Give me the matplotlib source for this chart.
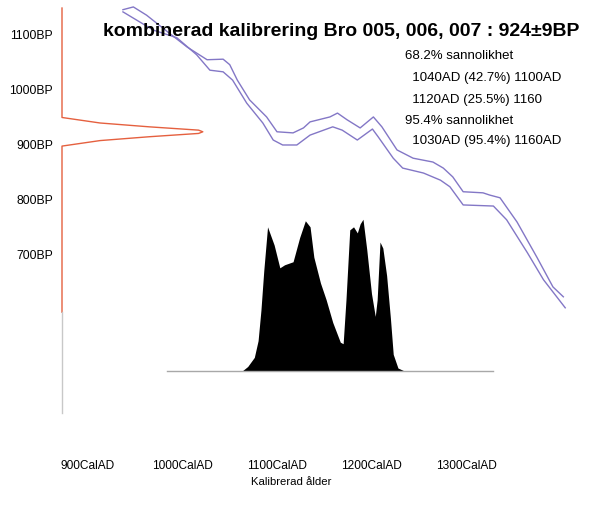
import matplotlib
matplotlib.use("Agg")
import matplotlib.pyplot as plt

# Calibration curve, upper and lower edge of the band (cal AD, BP)
CURVE_HI_AD = [937, 948, 962, 984, 1005, 1026, 1043, 1050, 1058, 1071, 1089, 1100,
               1117, 1128, 1135, 1156, 1164, 1174, 1188, 1202, 1211, 1227, 1244,
               1265, 1276, 1286, 1297, 1318, 1325, 1336, 1354, 1375, 1392, 1403]
CURVE_HI_BP = [1146, 1151, 1136, 1106, 1078, 1055, 1056, 1046, 1018, 982, 951, 924,
               922, 931, 942, 951, 958, 946, 931, 951, 933, 891, 876,
               869, 858, 842, 815, 813, 809, 804, 760, 696, 642, 624]
CURVE_LO_AD = [937, 969, 994, 1015, 1029, 1043, 1053, 1068, 1085, 1096, 1106, 1121,
               1135, 1159, 1169, 1185, 1201, 1207, 1223, 1233, 1255, 1273, 1283,
               1297, 1329, 1343, 1365, 1382, 1405]
CURVE_LO_BP = [1142, 1109, 1095, 1064, 1036, 1033, 1018, 976, 940, 909, 900, 900,
               918, 933, 927, 909, 929, 915, 876, 858, 849, 836, 824,
               791, 789, 764, 704, 655, 604]

# Radiocarbon date 924 +/- 9 BP (relative probability)
DATE_BP = [950, 940, 933, 927, 924, 921, 915, 908, 898]
DATE_P = [0.0, 0.27, 0.62, 0.97, 1.0, 0.97, 0.62, 0.27, 0.0]

# Calibrated distribution (cal AD, relative probability)
CAL_AD = [1063, 1069, 1076, 1080, 1083, 1086, 1090, 1097, 1103, 1108, 1117, 1124,
          1130, 1135, 1139, 1146, 1152, 1159, 1167, 1170, 1173, 1177, 1181, 1185,
          1188, 1191, 1195, 1200, 1204, 1206, 1209, 1212, 1216, 1220, 1223, 1228, 1235]
CAL_P = [0.0, 0.03, 0.09, 0.20, 0.40, 0.66, 0.95, 0.83, 0.68, 0.70, 0.72, 0.88,
         0.99, 0.95, 0.75, 0.58, 0.47, 0.32, 0.19, 0.18, 0.47, 0.93, 0.95, 0.91,
         0.97, 1.0, 0.80, 0.51, 0.36, 0.47, 0.85, 0.81, 0.63, 0.35, 0.11, 0.02, 0.0]

X_TICKS = [900, 1000, 1100, 1200, 1300]
X_LABELS = ['900CalAD', '1000CalAD', '1100CalAD', '1200CalAD', '1300CalAD']
Y_TICKS = [700, 800, 900, 1000, 1100]
Y_LABELS = ['700BP', '800BP', '900BP', '1000BP', '1100BP']

RANGES = ['68.2% sannolikhet',
          '  1040AD (42.7%) 1100AD',
          '  1120AD (25.5%) 1160',
          '95.4% sannolikhet',
          '  1030AD (95.4%) 1160AD']

FONT = ['Liberation Sans', 'DejaVu Sans']

W, H = 615, 508
fig = plt.figure(figsize=(W / 100, H / 100), dpi=100)
fig.patch.set_facecolor('white')
ax = fig.add_axes([62 / W, 1 - 420 / H, (600 - 62) / W, 420 / H])
x0, x1 = 872.5, 1441.8
y0, y1 = 400, 1163.6
ax.set_xlim(x0, x1)
ax.set_ylim(y0, y1)
for s in ax.spines.values():
    s.set_visible(False)

# calibration curve band
ax.plot(CURVE_HI_AD, CURVE_HI_BP, color='#8377c6', lw=1.0)
ax.plot(CURVE_LO_AD, CURVE_LO_BP, color='#8377c6', lw=1.0)

# date distribution drawn along the BP axis
red_scale = 149.0
red_bp = [1149] + DATE_BP + [596]
red_x = [x0] + [x0 + p * red_scale for p in DATE_P] + [x0]
ax.plot(red_x, red_bp, color='#e5603f', lw=1.0, clip_on=False)
ax.plot([x0, x0], [596, 413], color='#c8c8c8', lw=1.0, clip_on=False)

# calibrated distribution
base, height = 489, 276
ax.plot([983.6, 1328.6], [base, base], color='#a8a8a8', lw=1.0)
ax.fill_between(CAL_AD, base, [base + p * height for p in CAL_P],
                color='black', lw=0)

ax.set_xticks(X_TICKS)
ax.set_xticklabels(X_LABELS, family=FONT, fontsize=8.6)
ax.set_yticks(Y_TICKS)
ax.set_yticklabels(Y_LABELS, family=FONT, fontsize=8.7)
ax.tick_params(axis='x', length=0, pad=29)
ax.tick_params(axis='y', length=0, pad=6.5)

fig.text(291 / W, 1 - 482 / H, 'Kalibrerad ålder', family=FONT, fontsize=8.2,
         ha='center', va='center')

fig.text(341 / W, 1 - 32 / H, 'kombinerad kalibrering Bro 005, 006, 007 : 924±9BP',
         family=FONT, fontweight='bold', fontsize=14,
         ha='center', va='center')

line_y = [56, 78, 100, 121, 141]
for txt, yy in zip(RANGES, line_y):
    fig.text(405 / W, 1 - yy / H, txt, family=FONT, fontsize=9.5,
             ha='left', va='center')

fig.savefig('out.png', dpi=100, facecolor='white')
